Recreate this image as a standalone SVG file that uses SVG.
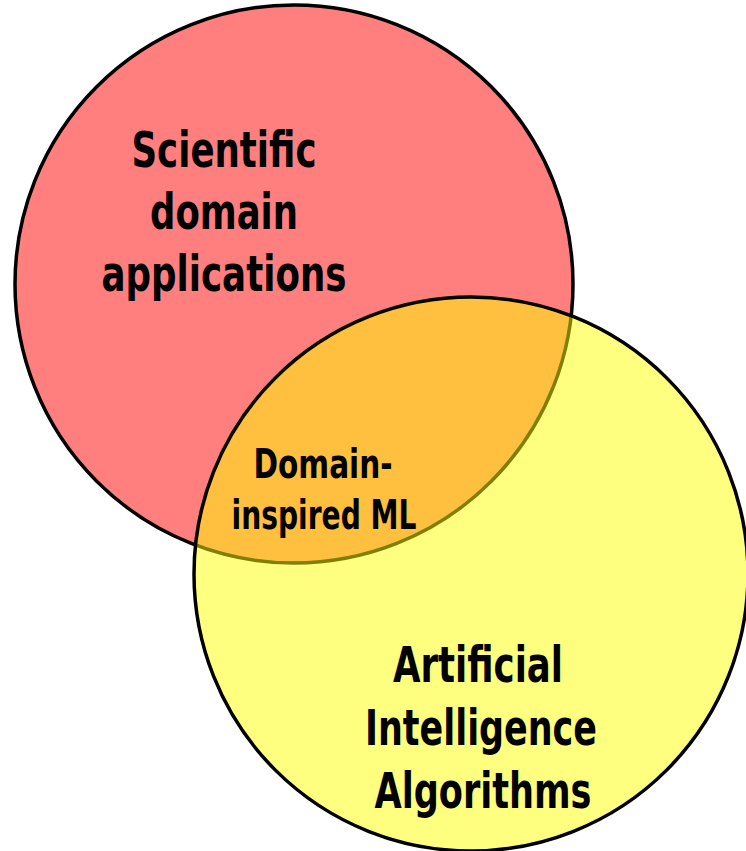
<svg xmlns="http://www.w3.org/2000/svg" width="746" height="851" viewBox="0 0 746 851">
<style>
.lbl{font-family:"Liberation Sans Narrow","DejaVu Sans Condensed","Liberation Sans",sans-serif;font-weight:bold;fill:#000;text-anchor:middle}
.big{font-size:50px}
.mid{font-size:40px}
</style>
<rect width="746" height="851" fill="#fff"/>
<g id="science">
<circle cx="294" cy="284" r="279" fill="#ff7f7f" stroke="#000" stroke-width="3.5"/>
</g>
<g id="ai">
<circle cx="471" cy="574" r="277" fill="#ffff00" fill-opacity="0.5" stroke="#000" stroke-width="3.5"/>
</g>
<g id="connectors"></g>
<g id="labels">
<text class="lbl big" x="224" y="167" textLength="185" lengthAdjust="spacingAndGlyphs">Scientific</text>
<text class="lbl big" x="224" y="229" textLength="148" lengthAdjust="spacingAndGlyphs">domain</text>
<text class="lbl big" x="224" y="291" textLength="245" lengthAdjust="spacingAndGlyphs">applications</text>
<text class="lbl mid" x="323" y="478" textLength="139" lengthAdjust="spacingAndGlyphs">Domain-</text>
<text class="lbl mid" x="324" y="529" textLength="185" lengthAdjust="spacingAndGlyphs">inspired ML</text>
<text class="lbl big" x="478" y="682" textLength="170" lengthAdjust="spacingAndGlyphs">Artificial</text>
<text class="lbl big" x="481" y="745" textLength="232" lengthAdjust="spacingAndGlyphs">Intelligence</text>
<text class="lbl big" x="483" y="808" textLength="217" lengthAdjust="spacingAndGlyphs">Algorithms</text>
</g>
</svg>
